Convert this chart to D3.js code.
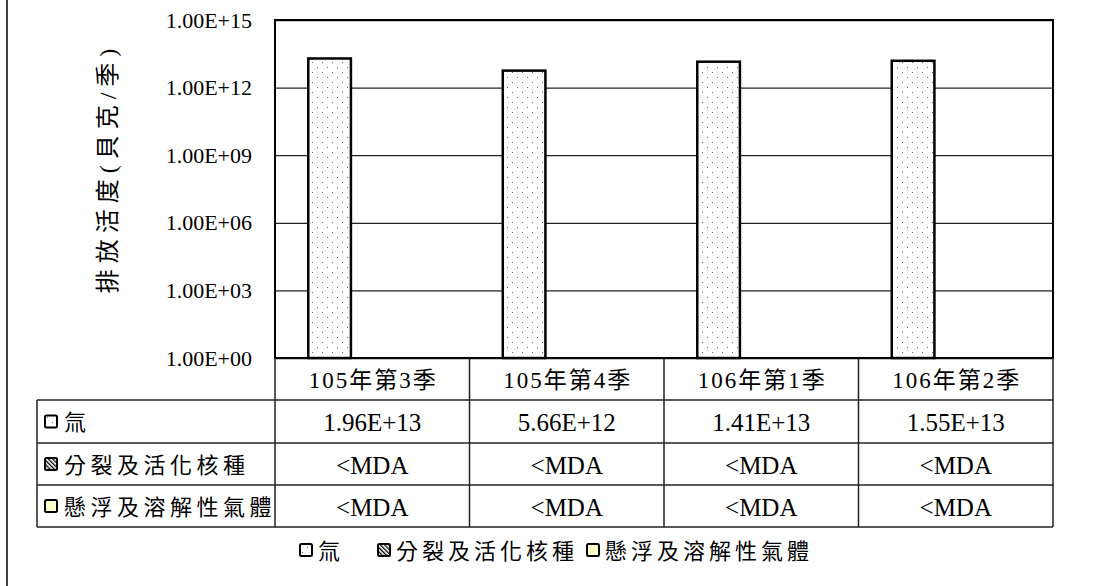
<!DOCTYPE html>
<html><head><meta charset="utf-8">
<script src="https://cdn.jsdelivr.net/npm/d3@7"></script>
<style>body{margin:0;background:#fff}svg{display:block}</style>
</head><body><svg id="c" width="1108" height="586"></svg>
<script>
const categories = ["105年第3季","105年第4季","106年第1季","106年第2季"];
const seriesNames = ["氚","分裂及活化核種","懸浮及溶解性氣體"];
const tritium = [1.96e13, 5.66e12, 1.41e13, 1.55e13];
const fission = [null, null, null, null];
const gas = [null, null, null, null];
const tableTritium = ["1.96E+13","5.66E+12","1.41E+13","1.55E+13"];
const tableFission = ["<MDA","<MDA","<MDA","<MDA"];
const tableGas = ["<MDA","<MDA","<MDA","<MDA"];
const yTicks = [1e0, 1e3, 1e6, 1e9, 1e12, 1e15];
const yTickLabels = ["1.00E+00","1.00E+03","1.00E+06","1.00E+09","1.00E+12","1.00E+15"];
const yTitle = "排放活度(貝克/季)";

const FONT = "'Liberation Serif','Times New Roman','Noto Sans CJK TC',serif";
const svg = d3.select("#c");
svg.append("rect").attr("width",1108).attr("height",586).attr("fill","#fff");

const L = 275, R = 1053, T = 20, B = 358;
const x0 = d3.scaleBand().domain(categories).range([L, R]).padding(0);
const x1 = d3.scaleBand().domain(seriesNames).range([0, x0.bandwidth()]).paddingInner(0).paddingOuter(0.78);
const y = d3.scaleLog().domain([1, 1e15]).range([B, T]);

const defs = svg.append("defs");
const dots = defs.append("pattern").attr("id","dots").attr("patternUnits","userSpaceOnUse").attr("width",10).attr("height",10);
dots.append("rect").attr("width",10).attr("height",10).attr("fill","#fff");
dots.append("rect").attr("x",2).attr("y",2).attr("width",1).attr("height",1).attr("fill","#666");
dots.append("rect").attr("x",7).attr("y",7).attr("width",1).attr("height",1).attr("fill","#666");
const hatch = defs.append("pattern").attr("id","hatch").attr("patternUnits","userSpaceOnUse").attr("width",3).attr("height",3).attr("patternTransform","rotate(-45)");
hatch.append("rect").attr("width",3).attr("height",3).attr("fill","#fff");
hatch.append("rect").attr("width",1.3).attr("height",3).attr("fill","#000");
const fills = ["url(#dots)","url(#hatch)","#FFFFCC"];

// left frame line
svg.append("line").attr("x1",7).attr("x2",7).attr("y1",0).attr("y2",586).attr("stroke","#000").attr("stroke-width",1.5);

// gridlines
const yAxis = d3.axisLeft(y).tickValues(yTicks).tickSize(-(R-L)).tickFormat((d,i)=>yTickLabels[i]).tickPadding(23);
const gy = svg.append("g").attr("transform",`translate(${L},0)`).call(yAxis);
gy.select(".domain").remove();
gy.selectAll(".tick line").attr("stroke","#222").attr("stroke-width",1.3);
gy.selectAll(".tick text").attr("font-family",FONT).attr("font-size",22).attr("fill","#000");

// bars
const seriesData = [tritium, fission, gas];
seriesData.forEach((vals, si) => {
  svg.append("g").selectAll("rect").data(vals.map((v,i)=>({v, c:categories[i]})).filter(d=>d.v!=null))
    .join("rect")
    .attr("x", d => x0(d.c) + x1(seriesNames[si]))
    .attr("width", x1.bandwidth())
    .attr("y", d => y(d.v))
    .attr("height", d => B - y(d.v))
    .attr("fill", fills[si]).attr("stroke","#000").attr("stroke-width",2.5);
});

// plot border
svg.append("rect").attr("x",L).attr("y",T).attr("width",R-L).attr("height",B-T)
  .attr("fill","none").attr("stroke","#000").attr("stroke-width",2);

// y title
svg.append("text").attr("transform","translate(108,168) rotate(-90)")
  .attr("text-anchor","middle").attr("dominant-baseline","central")
  .attr("font-family",FONT).attr("font-size",24).attr("letter-spacing",6).text(yTitle);

// data table
const rowsY = [358, 400, 443, 485, 527];
const TL = 37;
const tg = svg.append("g");
const lineC = "#222";
for (let k = 1; k <= 4; k++) {
  tg.append("line").attr("x1",TL).attr("x2",R).attr("y1",rowsY[k]).attr("y2",rowsY[k]).attr("stroke",lineC).attr("stroke-width",1.5);
}
const vxs = categories.map(c=>x0(c)).concat([R]);
vxs.forEach(vx => tg.append("line").attr("x1",vx).attr("x2",vx).attr("y1",B).attr("y2",rowsY[4]).attr("stroke",lineC).attr("stroke-width",1.5));
tg.append("line").attr("x1",TL).attr("x2",TL).attr("y1",rowsY[1]).attr("y2",rowsY[4]).attr("stroke",lineC).attr("stroke-width",1.5);

// category labels
tg.selectAll("text.cat").data(categories).join("text").attr("class","cat")
  .attr("x", d => x0(d) + x0.bandwidth()/2 + 1).attr("y", (rowsY[0]+rowsY[1])/2 + 1)
  .attr("text-anchor","middle").attr("dominant-baseline","central")
  .attr("font-family",FONT).attr("font-size",23).attr("letter-spacing",2).text(d=>d);

const tableRows = [tableTritium, tableFission, tableGas];
tableRows.forEach((row, ri) => {
  const cy = (rowsY[ri+1] + rowsY[ri+2]) / 2 + 1;
  tg.selectAll(null).data(row).join("text")
    .attr("x", (d,i) => x0(categories[i]) + x0.bandwidth()/2).attr("y", cy)
    .attr("text-anchor","middle").attr("dominant-baseline","central")
    .attr("font-family",FONT).attr("font-size",25).text(d=>d);
  tg.append("rect").attr("x",45).attr("y",cy-7).attr("width",12).attr("height",12).attr("rx",1.5)
    .attr("fill",fills[ri]).attr("stroke","#000").attr("stroke-width",2);
  tg.append("text").attr("x",64).attr("y",cy).attr("dominant-baseline","central")
    .attr("font-family",FONT).attr("font-size",22).attr("letter-spacing",4.5).text(seriesNames[ri]);
});

// legend
const legX = [300, 378, 587];
const legY = 551;
const lg = svg.append("g");
seriesNames.forEach((n,i) => {
  lg.append("rect").attr("x",legX[i]).attr("y",legY-7).attr("width",12).attr("height",12).attr("rx",1.5)
    .attr("fill",fills[i]).attr("stroke","#000").attr("stroke-width",2);
  lg.append("text").attr("x",legX[i]+18).attr("y",legY).attr("dominant-baseline","central")
    .attr("font-family",FONT).attr("font-size",22).attr("letter-spacing",4).text(n);
});
</script></body></html>
